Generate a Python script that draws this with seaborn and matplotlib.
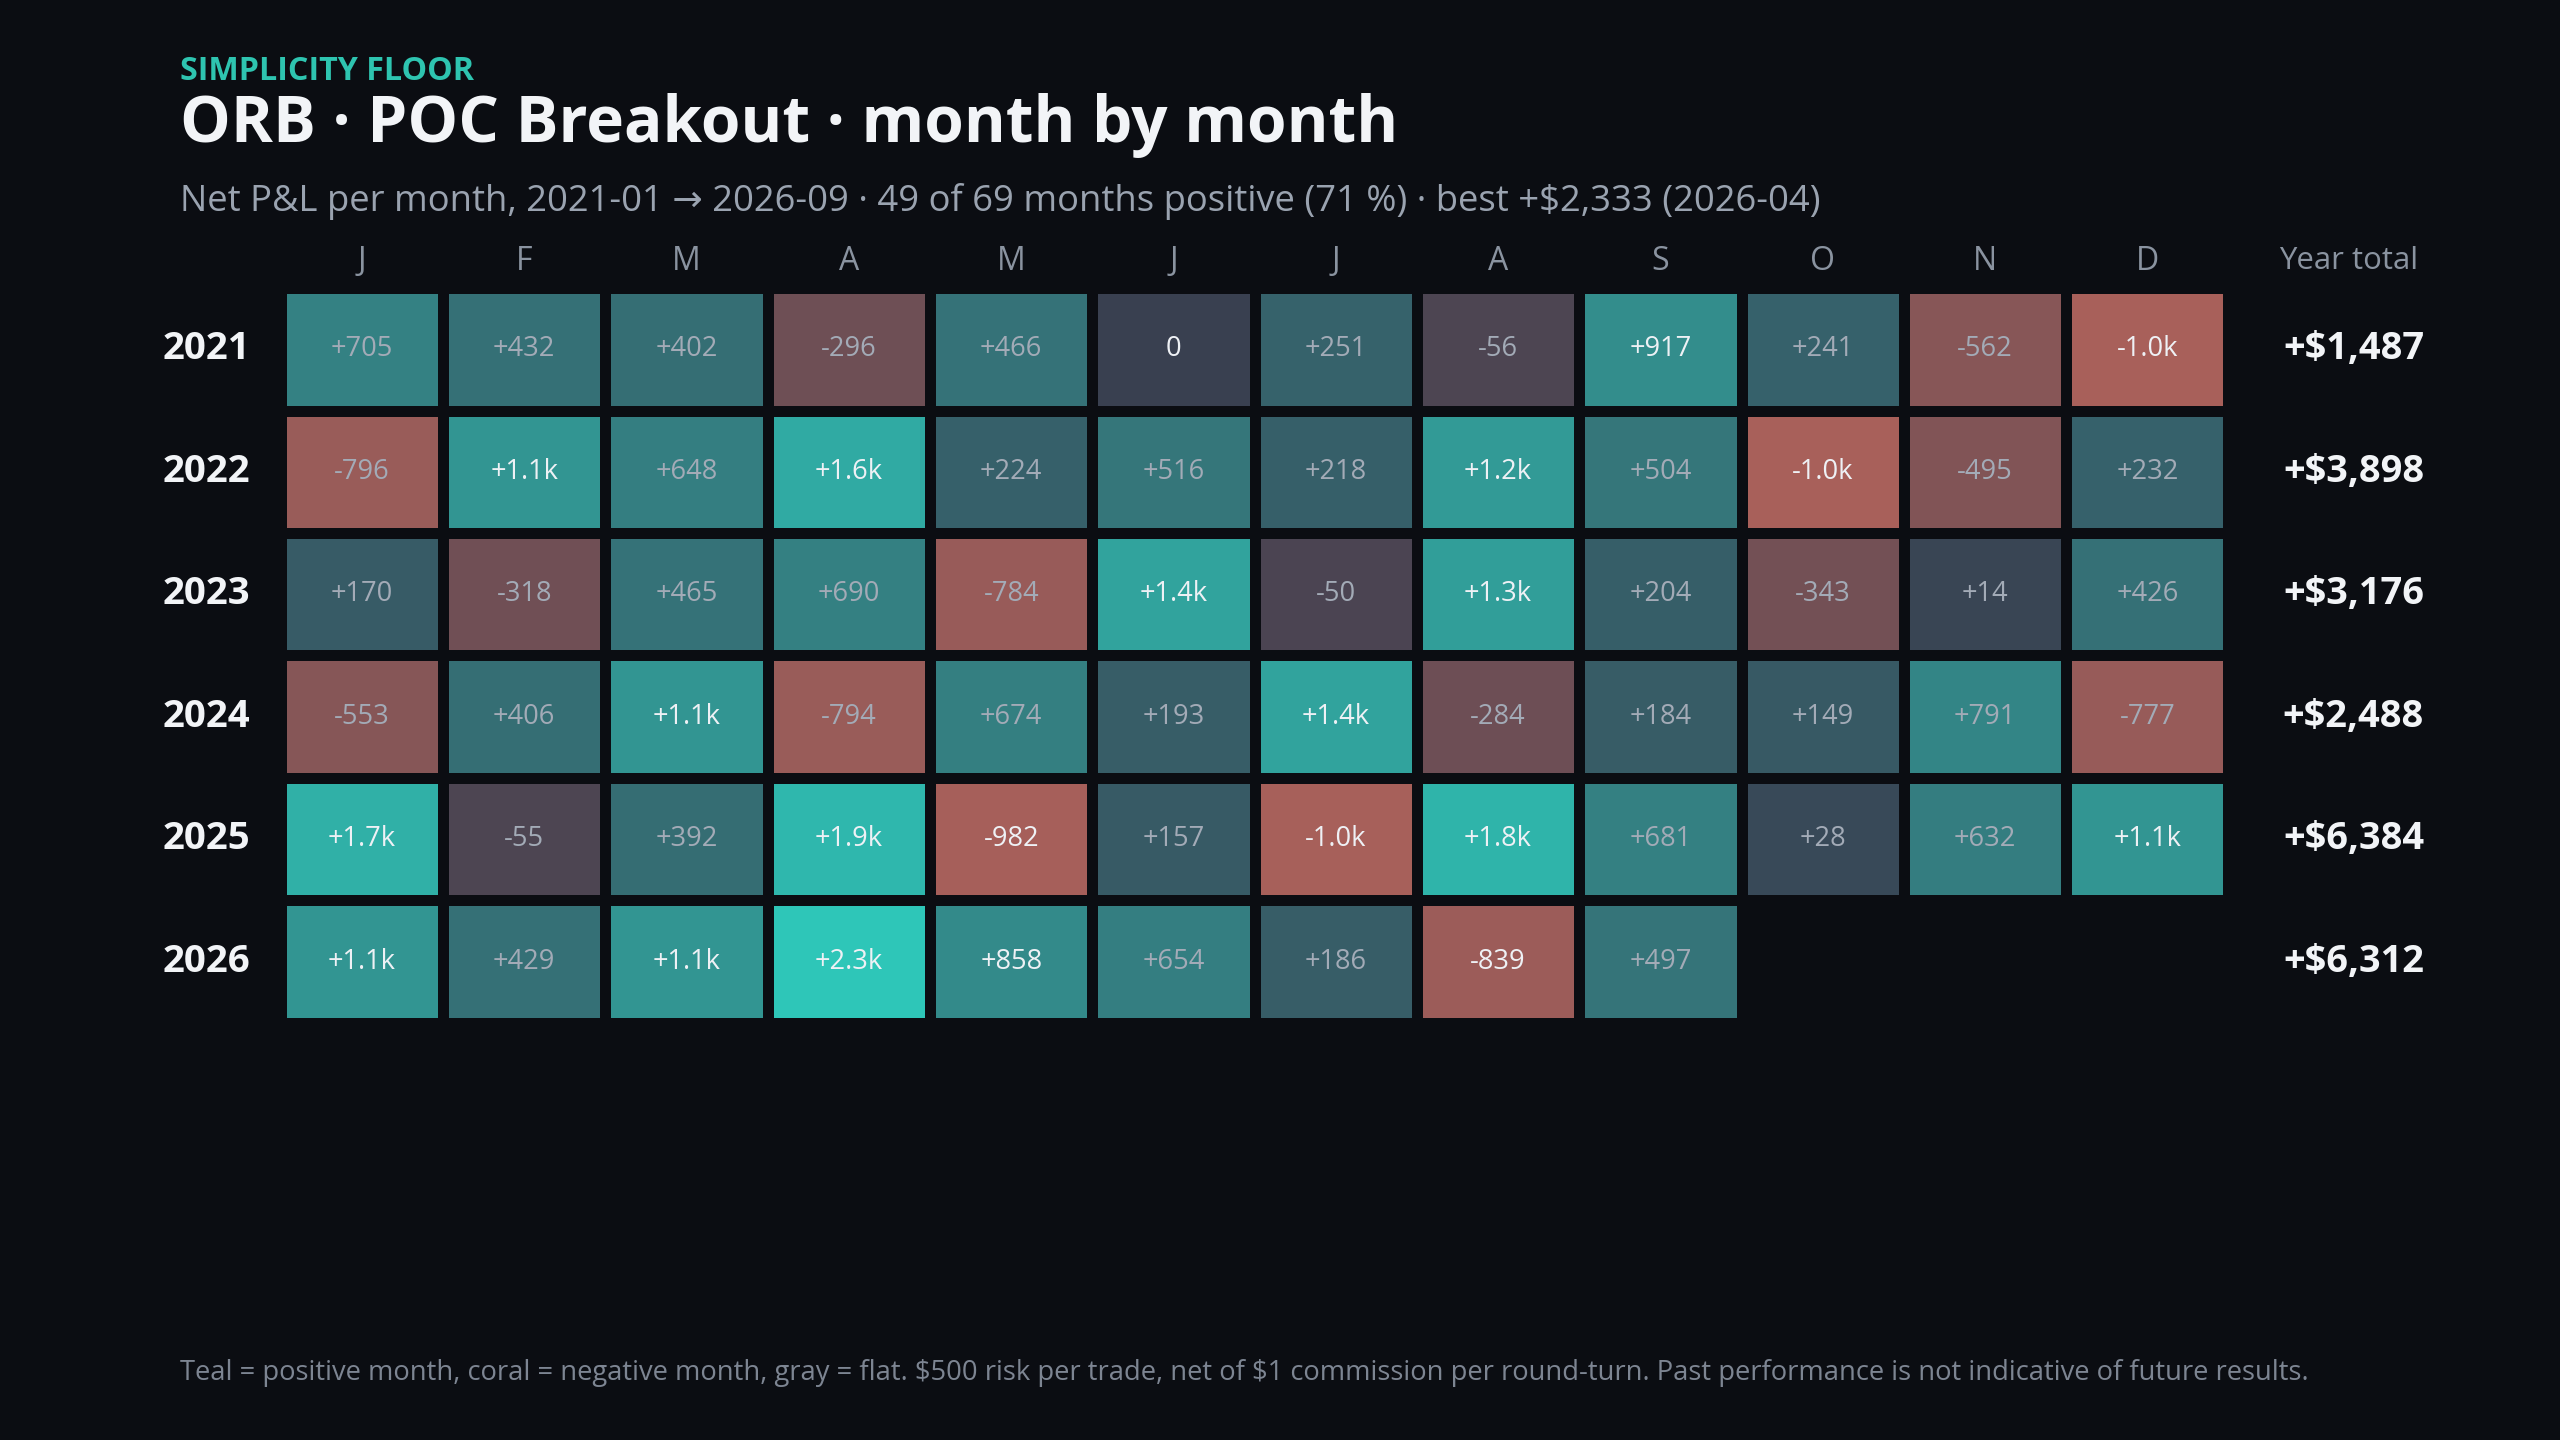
import numpy as np
import pandas as pd
import seaborn as sns
import matplotlib
matplotlib.use("Agg")
from matplotlib import pyplot as plt
from matplotlib import colors as mcolors


# data
years = ["2021", "2022", "2023", "2024", "2025", "2026"]
months = ["J", "F", "M", "A", "M", "J", "J", "A", "S", "O", "N", "D"]

pnl_2021 = [705, 432, 402, -296, 466, 0, 251, -56, 917, 241, -562, -1013]
pnl_2022 = [-796, 1090, 648, 1580, 224, 516, 218, 1197, 504, -1020, -495, 232]
pnl_2023 = [170, -318, 465, 690, -784, 1410, -50, 1292, 204, -343, 14, 426]
pnl_2024 = [-553, 406, 1102, -794, 674, 193, 1397, -284, 184, 149, 791, -777]
pnl_2025 = [1712, -55, 392, 1905, -982, 157, -1006, 1820, 681, 28, 632, 1100]
pnl_2026 = [1104, 429, 1090, 2333, 858, 654, 186, -839, 497, np.nan, np.nan, np.nan]

BG = "#0b0d12"
TEAL = "#2ec6b8"
CORAL = "#a8605a"
NEUTRAL = "#393f50"

plt.rcParams['font.family'] = ['Open Sans', 'DejaVu Sans']

df = pd.DataFrame([pnl_2021, pnl_2022, pnl_2023, pnl_2024, pnl_2025, pnl_2026],
                  index=years, columns=range(12))
totals = df.sum(axis=1, skipna=True)

# signed power scale, separate reach for gains and losses
pos_max = np.nanmax(df.values)
neg_max = -np.nanmin(df.values)
gam = 0.6


def fwd(x):
    x = np.asarray(x, dtype=float)
    return np.where(x >= 0, (np.abs(x) / pos_max) ** gam, -(np.abs(x) / neg_max) ** gam)


def inv(y):
    y = np.asarray(y, dtype=float)
    return np.where(y >= 0, pos_max * np.abs(y) ** (1 / gam), -neg_max * np.abs(y) ** (1 / gam))


norm = mcolors.FuncNorm((fwd, inv), vmin=-neg_max, vmax=pos_max)
cmap = mcolors.LinearSegmentedColormap.from_list("pnl", [CORAL, NEUTRAL, TEAL])


def fmt(v):
    if np.isnan(v):
        return ""
    if v == 0:
        return "0"
    if abs(v) >= 1000:
        return f"{v / 1000:+.1f}k"
    return f"{int(v):+d}"


labels = df.map(fmt).values

fig = plt.figure(figsize=(12.8, 7.2), dpi=200)
fig.patch.set_facecolor(BG)
ax = fig.add_axes([0.1097, 0.2897, 0.7608, 0.5102])
ax.set_facecolor(BG)

sns.heatmap(df, mask=df.isna(), cmap=cmap, norm=norm, cbar=False,
            linewidths=3.9, linecolor=BG, annot=labels, fmt="",
            annot_kws={"fontsize": 9.8}, xticklabels=months,
            yticklabels=years, ax=ax)

# text colour: bright on strong cells (and on the flat one)
for t in ax.texts:
    x, y = t.get_position()
    v = df.values[int(y), int(x)]
    if abs(v) >= 800 or v == 0:
        t.set_color("#eef1f5")
    else:
        t.set_color("#a3abb7")

ax.xaxis.tick_top()
ax.tick_params(axis="x", length=0, pad=3.5, labelsize=11.5, labelcolor="#8a93a0")
ax.tick_params(axis="y", length=0, pad=11, labelsize=13.8, labelcolor="#f2f4f7", rotation=0)
for lab in ax.get_yticklabels():
    lab.set_fontweight("bold")
ax.set_xlabel("")
ax.set_ylabel("")
for s in ax.spines.values():
    s.set_visible(False)

ax.text(12.74, -0.22, "Year total", ha="center", va="center",
        fontsize=11.2, color="#8a93a0", clip_on=False)
for i, tot in enumerate(totals):
    sign = "+" if tot >= 0 else "-"
    ax.text(12.77, i + 0.5, f"{sign}\\${abs(tot):,.0f}", ha="center", va="center",
            fontsize=13.7, fontweight="bold", color="#f2f4f7", clip_on=False)

fig.text(0.0702, 0.9444, "SIMPLICITY FLOOR", fontsize=11.6, fontweight="bold",
         color="#2ec4b0", va="baseline")
fig.text(0.0702, 0.9014, "ORB · POC Breakout · month by month", fontsize=23,
         fontweight="bold", color="#f2f4f7", va="baseline")
fig.text(0.0702, 0.8537,
         "Net P&L per month, 2021-01 → 2026-09 · 49 of 69 months positive (71 %) · best +\\$2,333 (2026-04)",
         fontsize=13.1, color="#9aa3b0", va="baseline")
fig.text(0.0702, 0.0465,
         "Teal = positive month, coral = negative month, gray = flat. \\$500 risk per trade, net of \\$1 commission per round-turn. Past performance is not indicative of future results.",
         fontsize=9.85, color="#7d8592", va="center")

fig.savefig("out.png", dpi=200, facecolor=BG)
